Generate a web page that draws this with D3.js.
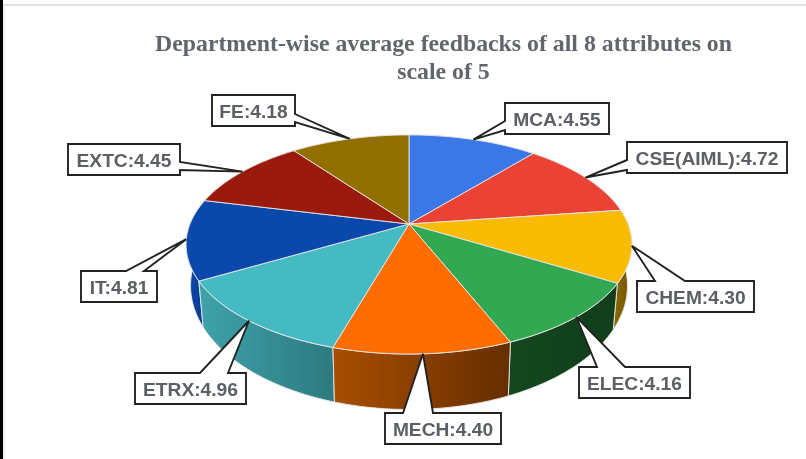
<!DOCTYPE html>
<html>
<head>
<meta charset="utf-8">
<script src="https://cdn.jsdelivr.net/npm/d3@7"></script>
<style>
  html, body { margin: 0; padding: 0; background: #fff; }
  svg { display: block; filter: blur(0.55px); }
</style>
</head>
<body>
<div id="chart"></div>
<script>
// data, clockwise from 12 o'clock
var departments = ["MCA", "CSE(AIML)", "CHEM", "ELEC", "MECH", "ETRX", "IT", "EXTC", "FE"];
var feedbacks = [4.55, 4.72, 4.30, 4.16, 4.40, 4.96, 4.81, 4.45, 4.18];
var titleLines = ["Department-wise average feedbacks of all 8 attributes on", "scale of 5"];

// colours
var topColors = ["#3b78e7", "#ea4335", "#f9bc02", "#33a853", "#ff6d01", "#45bac3", "#0b48ab", "#9a1b0e", "#917000"];
var wallFrom = ["#2a55a4", "#a62f25", "#8a6a00", "#14471f", "#a84e00", "#3fa2aa", "#0b48ab", "#6d1309", "#675000"];
var wallTo = ["#2a55a4", "#a62f25", "#6f5400", "#103e1b", "#662e00", "#2c7a80", "#083a8c", "#6d1309", "#675000"];

// label boxes: x, y, w, h, side the tail leaves from, tail start, tail end
var labelBoxes = [
    [505, 103, 104, 31, "left", 121, 130],
    [627, 142, 160, 31, "left", 160, 170],
    [637, 281, 117, 31, "top", 655, 685],
    [579, 367, 111, 31, "top", 597, 625],
    [385, 413, 116, 31, "top", 403, 433],
    [135, 373, 111, 31, "top", 200, 228],
    [81, 271, 76, 31, "top", 126, 144],
    [68, 144, 112, 31, "right", 162, 170],
    [212, 95, 83, 31, "right", 114, 122]
];

var width = 806, height = 459;

var svg = d3.select("#chart")
    .append("svg")
    .attr("width", width)
    .attr("height", height);

// page edges of the screenshot
svg.append("rect").attr("x", 0).attr("y", 0).attr("width", 3).attr("height", height).attr("fill", "#000");
svg.append("rect").attr("x", 3).attr("y", 4).attr("width", width - 3).attr("height", 2).attr("fill", "#e3e3e3");
svg.append("rect").attr("x", 3).attr("y", 6).attr("width", 2).attr("height", height - 6).attr("fill", "#efefef");

// title
svg.selectAll(".title")
    .data(titleLines)
    .enter()
    .append("text")
    .attr("x", 443.5)
    .attr("y", function (d, i) { return 50.5 + i * 28; })
    .attr("text-anchor", "middle")
    .style("font-family", "'Liberation Serif'")
    .style("font-weight", "bold")
    .style("font-size", "23.8px")
    .style("fill", "#62666c")
    .text(function (d) { return d; });

// perspective of the tilted disc
var tilt = 0.187;
var topX = d3.scaleLinear().domain([-1, 1]).range([409 - 219, 409 + 219]);
var topY = d3.scaleLinear().domain([-1, 1]).range([224 - 105.7, 224 + 105.7]);
var baseX = d3.scaleLinear().domain([-1, 1]).range([409 - 214.6, 409 + 214.6]);
var baseY = d3.scaleLinear().domain([-1, 1]).range([262.6 - 119.4, 262.6 + 119.4]);

function ring(sx, sy) {
    return function (a) {
        var w = 1 + tilt * Math.cos(a);
        return [sx(Math.sin(a) / w), sy(-Math.cos(a) / w)];
    };
}
var onTop = ring(topX, topY);
var onBase = ring(baseX, baseY);

function arcPoints(fn, a0, a1) {
    var n = Math.ceil((a1 - a0) / 0.02);
    return d3.range(n + 1).map(function (i) { return fn(a0 + (a1 - a0) * i / n); });
}

var pie = d3.pie().sort(null);
var slices = pie(feedbacks);
var line = d3.line();

// gradients for the side walls
var defs = svg.append("defs");
slices.forEach(function (s, i) {
    var g = defs.append("linearGradient").attr("id", "wall" + i);
    g.append("stop").attr("offset", "0%").attr("stop-color", wallFrom[i]);
    g.append("stop").attr("offset", "100%").attr("stop-color", wallTo[i]);
});

// side walls, back to front
var wallOrder = d3.range(slices.length).sort(function (a, b) {
    var ma = (slices[a].startAngle + slices[a].endAngle) / 2;
    var mb = (slices[b].startAngle + slices[b].endAngle) / 2;
    return Math.cos(mb) - Math.cos(ma);
});

svg.selectAll(".wall")
    .data(wallOrder)
    .enter()
    .append("path")
    .attr("class", "wall")
    .attr("d", function (i) {
        var s = slices[i];
        var pts = arcPoints(onTop, s.startAngle, s.endAngle)
            .concat(arcPoints(onBase, s.startAngle, s.endAngle).reverse());
        return line(pts) + "Z";
    })
    .attr("fill", function (i) { return "url(#wall" + i + ")"; })
    .attr("stroke", "#e8e8e8")
    .attr("stroke-width", 0.9)
    .attr("stroke-linejoin", "round");

// top face
svg.selectAll(".slice")
    .data(slices)
    .enter()
    .append("path")
    .attr("class", "slice")
    .attr("d", function (s) {
        return line([[409, 224]].concat(arcPoints(onTop, s.startAngle, s.endAngle))) + "Z";
    })
    .attr("fill", function (s, i) { return topColors[i]; })
    .attr("stroke", "#e8e8e8")
    .attr("stroke-width", 0.9)
    .attr("stroke-linejoin", "round");

// callout labels, tail tip sits on the rim at the middle of the slice
function calloutPath(box, tip) {
    var x = box[0], y = box[1], w = box[2], h = box[3], side = box[4], a = box[5], b = box[6];
    var pts;
    if (side === "top") {
        pts = [[x, y], [a, y], tip, [b, y], [x + w, y], [x + w, y + h], [x, y + h]];
    } else if (side === "left") {
        pts = [[x, y], [x + w, y], [x + w, y + h], [x, y + h], [x, b], tip, [x, a]];
    } else {
        pts = [[x, y], [x + w, y], [x + w, a], tip, [x + w, b], [x + w, y + h], [x, y + h]];
    }
    return line(pts) + "Z";
}

var labels = svg.selectAll(".label")
    .data(slices)
    .enter()
    .append("g")
    .attr("class", "label");

labels.append("path")
    .attr("d", function (s, i) {
        return calloutPath(labelBoxes[i], onTop((s.startAngle + s.endAngle) / 2));
    })
    .attr("fill", "#fff")
    .attr("stroke", "#222")
    .attr("stroke-width", 1.9)
    .attr("stroke-linejoin", "miter");

labels.append("text")
    .attr("x", function (s, i) { return labelBoxes[i][0] + labelBoxes[i][2] / 2; })
    .attr("y", function (s, i) { return labelBoxes[i][1] + 22.5; })
    .attr("text-anchor", "middle")
    .style("font-family", "'Liberation Sans'")
    .style("font-weight", "bold")
    .style("font-size", "19.2px")
    .style("fill", "#5c6066")
    .text(function (s, i) { return departments[i] + ":" + feedbacks[i].toFixed(2); });
</script>
</body>
</html>
